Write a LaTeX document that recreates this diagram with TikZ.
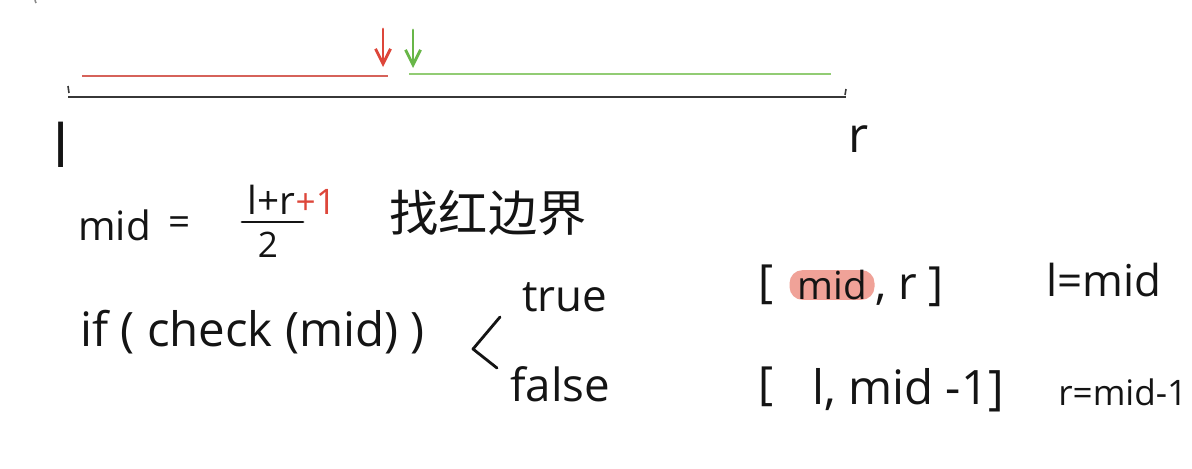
\documentclass[tikz,border=0pt]{standalone}
\usepackage{fontspec}
\setmainfont{Open Sans}
\newfontfamily\cjkfont{Noto Sans CJK SC}
\usetikzlibrary{arrows.meta,positioning}
\definecolor{handred}{RGB}{221,70,58}
\definecolor{handgreen}{RGB}{104,182,72}
\definecolor{lightred}{RGB}{214,98,90}
\definecolor{lightgreen}{RGB}{146,204,116}
\definecolor{ink}{RGB}{20,20,20}
\definecolor{hilite}{RGB}{240,162,152}

\begin{document}
\begin{tikzpicture}[x=0.02cm,y=-0.02cm,
  hand/.style={font=\fontsize{#1}{#1}\selectfont,inner sep=0pt,text=ink},
  hand/.default=24,
  pen/.style={draw=#1,line width=0.9pt},
  stroke/.style={draw=ink,line width=1.6pt,line cap=round,line join=round},
  downarrow/.style={draw=#1,line width=1.6pt,line cap=round,-{Straight Barb[length=3mm,width=3mm]}}
]
  \useasboundingbox (0,0) rectangle (1192,468);
  \fill[white] (0,0) rectangle (1192,468);

  \draw[pen=ink!50] (35,0) -- (36,3);
  \coordinate (a0) at (68,97);
  \coordinate (a1) at (846,97);
  \draw[pen=ink!85] (a0) -- (a1);
  \draw[pen=ink!85] (68,86) -- (69,93);
  \draw[pen=ink!85] (846,89) -- (845,95);
  \draw[pen=lightred] (82,76) -- (388,76);
  \draw[pen=lightgreen] (409,74) -- (831,74);

  \coordinate (rtop) at (383,29);
  \coordinate (rtip) at (383,67);
  \coordinate (gtop) at (413,30);
  \coordinate (gtip) at (413,68);
  \draw[downarrow=handred] (rtop) -- (rtip);
  \draw[downarrow=handgreen] (gtop) -- (gtip);

  \node[hand=34] (lft) at (61,145) {l};
  \node[hand=28] (rgt) at (859,139) {r};

  \node[hand=23,anchor=base west] (mid) at (78,240) {mid};
  \node[hand=22,anchor=base] (eq) at (180,235) {=};
  \node[hand=22,anchor=base west] (num) at (247,214) {l+r};
  \node[hand=20,anchor=base west,text=handred] (plus) at (num.base east) {+1};
  \coordinate (barl) at (242,222);
  \coordinate (barr) at (303,222);
  \draw[stroke] (barl) -- (barr);
  \node[hand=20] (den) at (268,245) {2};
  \node[hand=28] (note) at (488,213) {\cjkfont 找红边界};

  \node[hand=27,anchor=base west] (cond) at (80,346) {if ( check (mid) )};
  \coordinate (brtop) at (500,317);
  \coordinate (brtip) at (473,349);
  \coordinate (brbot) at (497,368);
  \draw[stroke] (brtop) -- (brtip) -- (brbot);
  \node[hand=25,anchor=base west] (tru) at (522,311) {true};
  \node[hand=26,anchor=base west] (fls) at (510,401) {false};

  \node[hand=26,anchor=base west] (lb1) at (758,297) {[};
  \node[hand=22,fill=hilite,rounded corners=0.26cm,minimum width=1.7cm,minimum height=0.52cm] (hl) at (832,285) {mid};
  \node[hand=26,anchor=base west] (rb1) at (hl.base east) {, r ]};
  \node[hand=25,anchor=base west] (upd1) at (1046,296) {l=mid};

  \node[hand=26,anchor=base west] (lb2) at (758,399) {[};
  \node[hand=27,anchor=base west] (rng2) at (812,404) {l, mid -1]};
  \node[hand=20,anchor=base west] (upd2) at (1058,405) {r=mid-1};
\end{tikzpicture}
\end{document}
